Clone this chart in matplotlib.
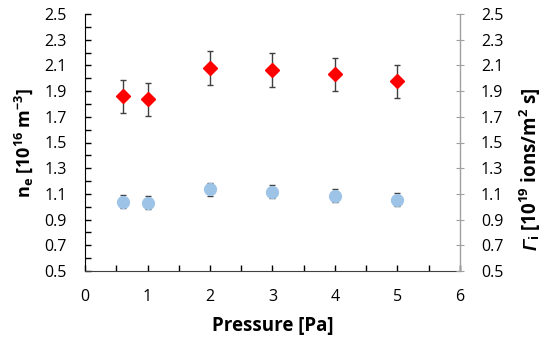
import matplotlib
matplotlib.use('Agg')
from matplotlib import pyplot as plt
import numpy as np

# data
pressure = [0.6, 1, 2, 3, 4, 5]
ne = [1.86, 1.835, 2.08, 2.065, 2.03, 1.975]
ne_err = [0.13, 0.13, 0.13, 0.13, 0.13, 0.13]
gamma_i = [1.04, 1.03, 1.135, 1.117, 1.086, 1.056]
gamma_err = [0.05, 0.05, 0.05, 0.05, 0.05, 0.05]

plt.rcParams['font.family'] = ['Open Sans', 'DejaVu Sans']
plt.rcParams['mathtext.fontset'] = 'custom'
plt.rcParams['mathtext.rm'] = 'Open Sans:bold'
plt.rcParams['mathtext.bf'] = 'Open Sans:bold'
plt.rcParams['mathtext.it'] = 'Open Sans:bold'

fig = plt.figure(figsize=(5.5, 3.41), dpi=100)
ax1 = fig.add_axes([85/550, 1-271/341, 375/550, 257/341])
ax2 = ax1.twinx()

ax1.errorbar(pressure, ne, yerr=ne_err, fmt='D', color='#ff0000', ms=7,
             ecolor='#404040', elinewidth=1, capsize=2.5, capthick=1, zorder=3)
ax2.errorbar(pressure, gamma_i, yerr=gamma_err, fmt='o', color='#9dc3e6', ms=8.5,
             ecolor='#404040', elinewidth=1, capsize=2.5, capthick=1, zorder=3)

for ax in (ax1, ax2):
    ax.set_ylim(0.5, 2.5)
    ax.set_yticks(np.arange(0.5, 2.51, 0.2))
    ax.set_yticklabels(['%.1f' % v for v in np.arange(0.5, 2.51, 0.2)])
    ax.spines['top'].set_visible(False)
    ax.tick_params(labelsize=11.5)

ax1.set_xlim(0, 6)
ax1.set_xticks(range(7))
ax1.set_xticks(np.arange(0.5, 6, 1), minor=True)
ax1.set_yticks(np.arange(0.6, 2.5, 0.2), minor=True)
ax1.tick_params(axis='both', which='both', direction='in', length=4, width=1)
ax1.tick_params(axis='x', pad=13)
ax1.tick_params(axis='y', pad=13)
ax2.tick_params(axis='y', direction='inout', length=6, color='#a0a0a0', pad=12)

ax1.spines['left'].set_color('black')
ax1.spines['bottom'].set_color('#404040')
ax2.spines['right'].set_color('#a0a0a0')
ax2.spines['left'].set_visible(False)
ax2.spines['bottom'].set_visible(False)

ax1.set_xlabel('Pressure [Pa]', fontsize=13.5, fontweight='bold', labelpad=8)
ax1.set_ylabel(r'n$_\mathrm{e}$ [10$^\mathrm{16}$ m$^\mathrm{-3}$]', fontsize=13,
               fontweight='bold', labelpad=7)

# right label: italic Gamma drawn separately, rest of the label after it
xb, yb = 537/550, (341-250)/341
fig.text(xb, yb, '\u0393', rotation=90, rotation_mode='anchor', ha='left',
         va='baseline', fontsize=13.5, fontweight='bold', style='italic',
         family='Liberation Sans')
fig.text(xb, yb + 10/341, r'$_\mathrm{i}$ [10$^\mathrm{19}$ ions/m$^\mathrm{2}$ s]',
         rotation=90, rotation_mode='anchor', ha='left', va='baseline',
         fontsize=13.5, fontweight='bold')

plt.savefig('out.png', dpi=100)
